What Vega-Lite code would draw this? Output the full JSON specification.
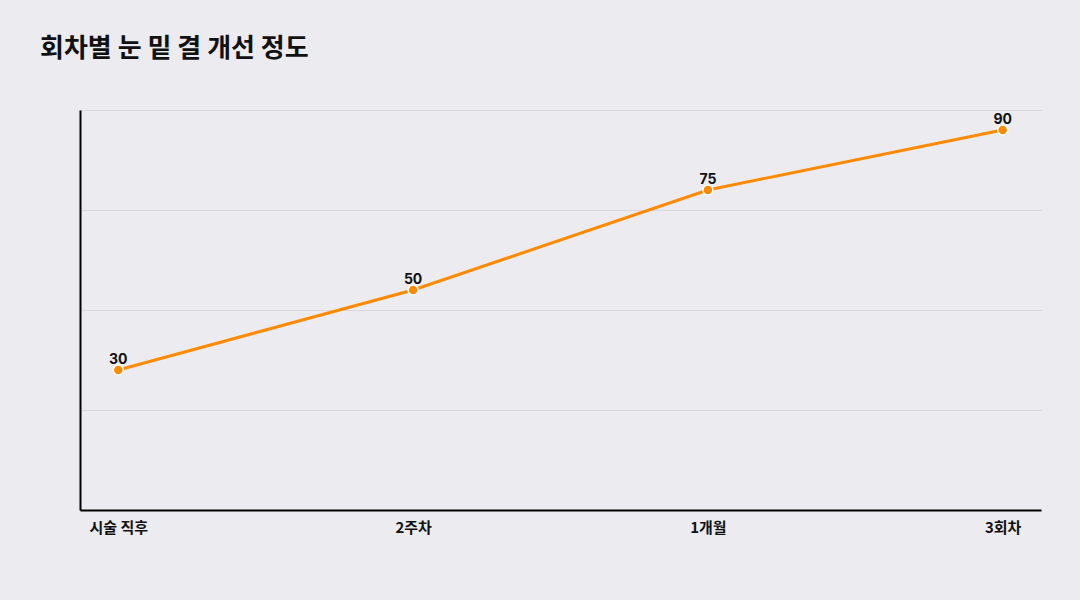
{
  "$schema": "https://vega.github.io/schema/vega-lite/v6.json",
  "autosize": "none",
  "width": 961,
  "height": 400,
  "padding": {"left": 80, "top": 110, "right": 39, "bottom": 90},
  "background": "#ebebf0",
  "title": {
    "text": "회차별 눈 밑 결 개선 정도",
    "anchor": "start",
    "frame": "bounds",
    "dx": -40,
    "offset": 48,
    "fontSize": 26,
    "fontWeight": "bold",
    "font": "Noto Sans CJK KR",
    "color": "#111111"
  },
  "data": {
    "values": [
      {"stage": "시술 직후", "score": 30},
      {"stage": "2주차", "score": 50},
      {"stage": "1개월", "score": 75},
      {"stage": "3회차", "score": 90}
    ]
  },
  "encoding": {
    "x": {
      "field": "stage",
      "type": "ordinal",
      "sort": null,
      "scale": {"type": "point", "padding": 0.13},
      "axis": {
        "title": null,
        "labelAngle": 0,
        "ticks": false,
        "domainColor": "#000000",
        "domainWidth": 2,
        "labelFont": "Noto Sans CJK KR",
        "labelFontSize": 15,
        "labelFontWeight": "bold",
        "labelColor": "#111111",
        "labelPadding": 10,
        "grid": false
      }
    },
    "y": {
      "field": "score",
      "type": "quantitative",
      "scale": {"domain": [-5, 95], "nice": false, "zero": false},
      "axis": {
        "title": null,
        "labels": false,
        "ticks": false,
        "values": [-5, 20, 45, 70, 95],
        "domainColor": "#000000",
        "domainWidth": 2,
        "grid": true,
        "gridColor": "#d8d8dc",
        "gridWidth": 1
      }
    }
  },
  "layer": [
    {"mark": {"type": "line", "color": "#ff8a00", "strokeWidth": 3}},
    {"mark": {"type": "point", "filled": true, "fill": "#ff8a00", "stroke": "#ffffff", "strokeWidth": 1.5, "size": 100, "opacity": 1}},
    {
      "mark": {"type": "text", "dy": -10, "fontSize": 14, "fontWeight": "bold", "font": "Inter", "color": "#111111"},
      "encoding": {"text": {"field": "score", "type": "quantitative"}}
    }
  ],
  "config": {"view": {"stroke": null}}
}
